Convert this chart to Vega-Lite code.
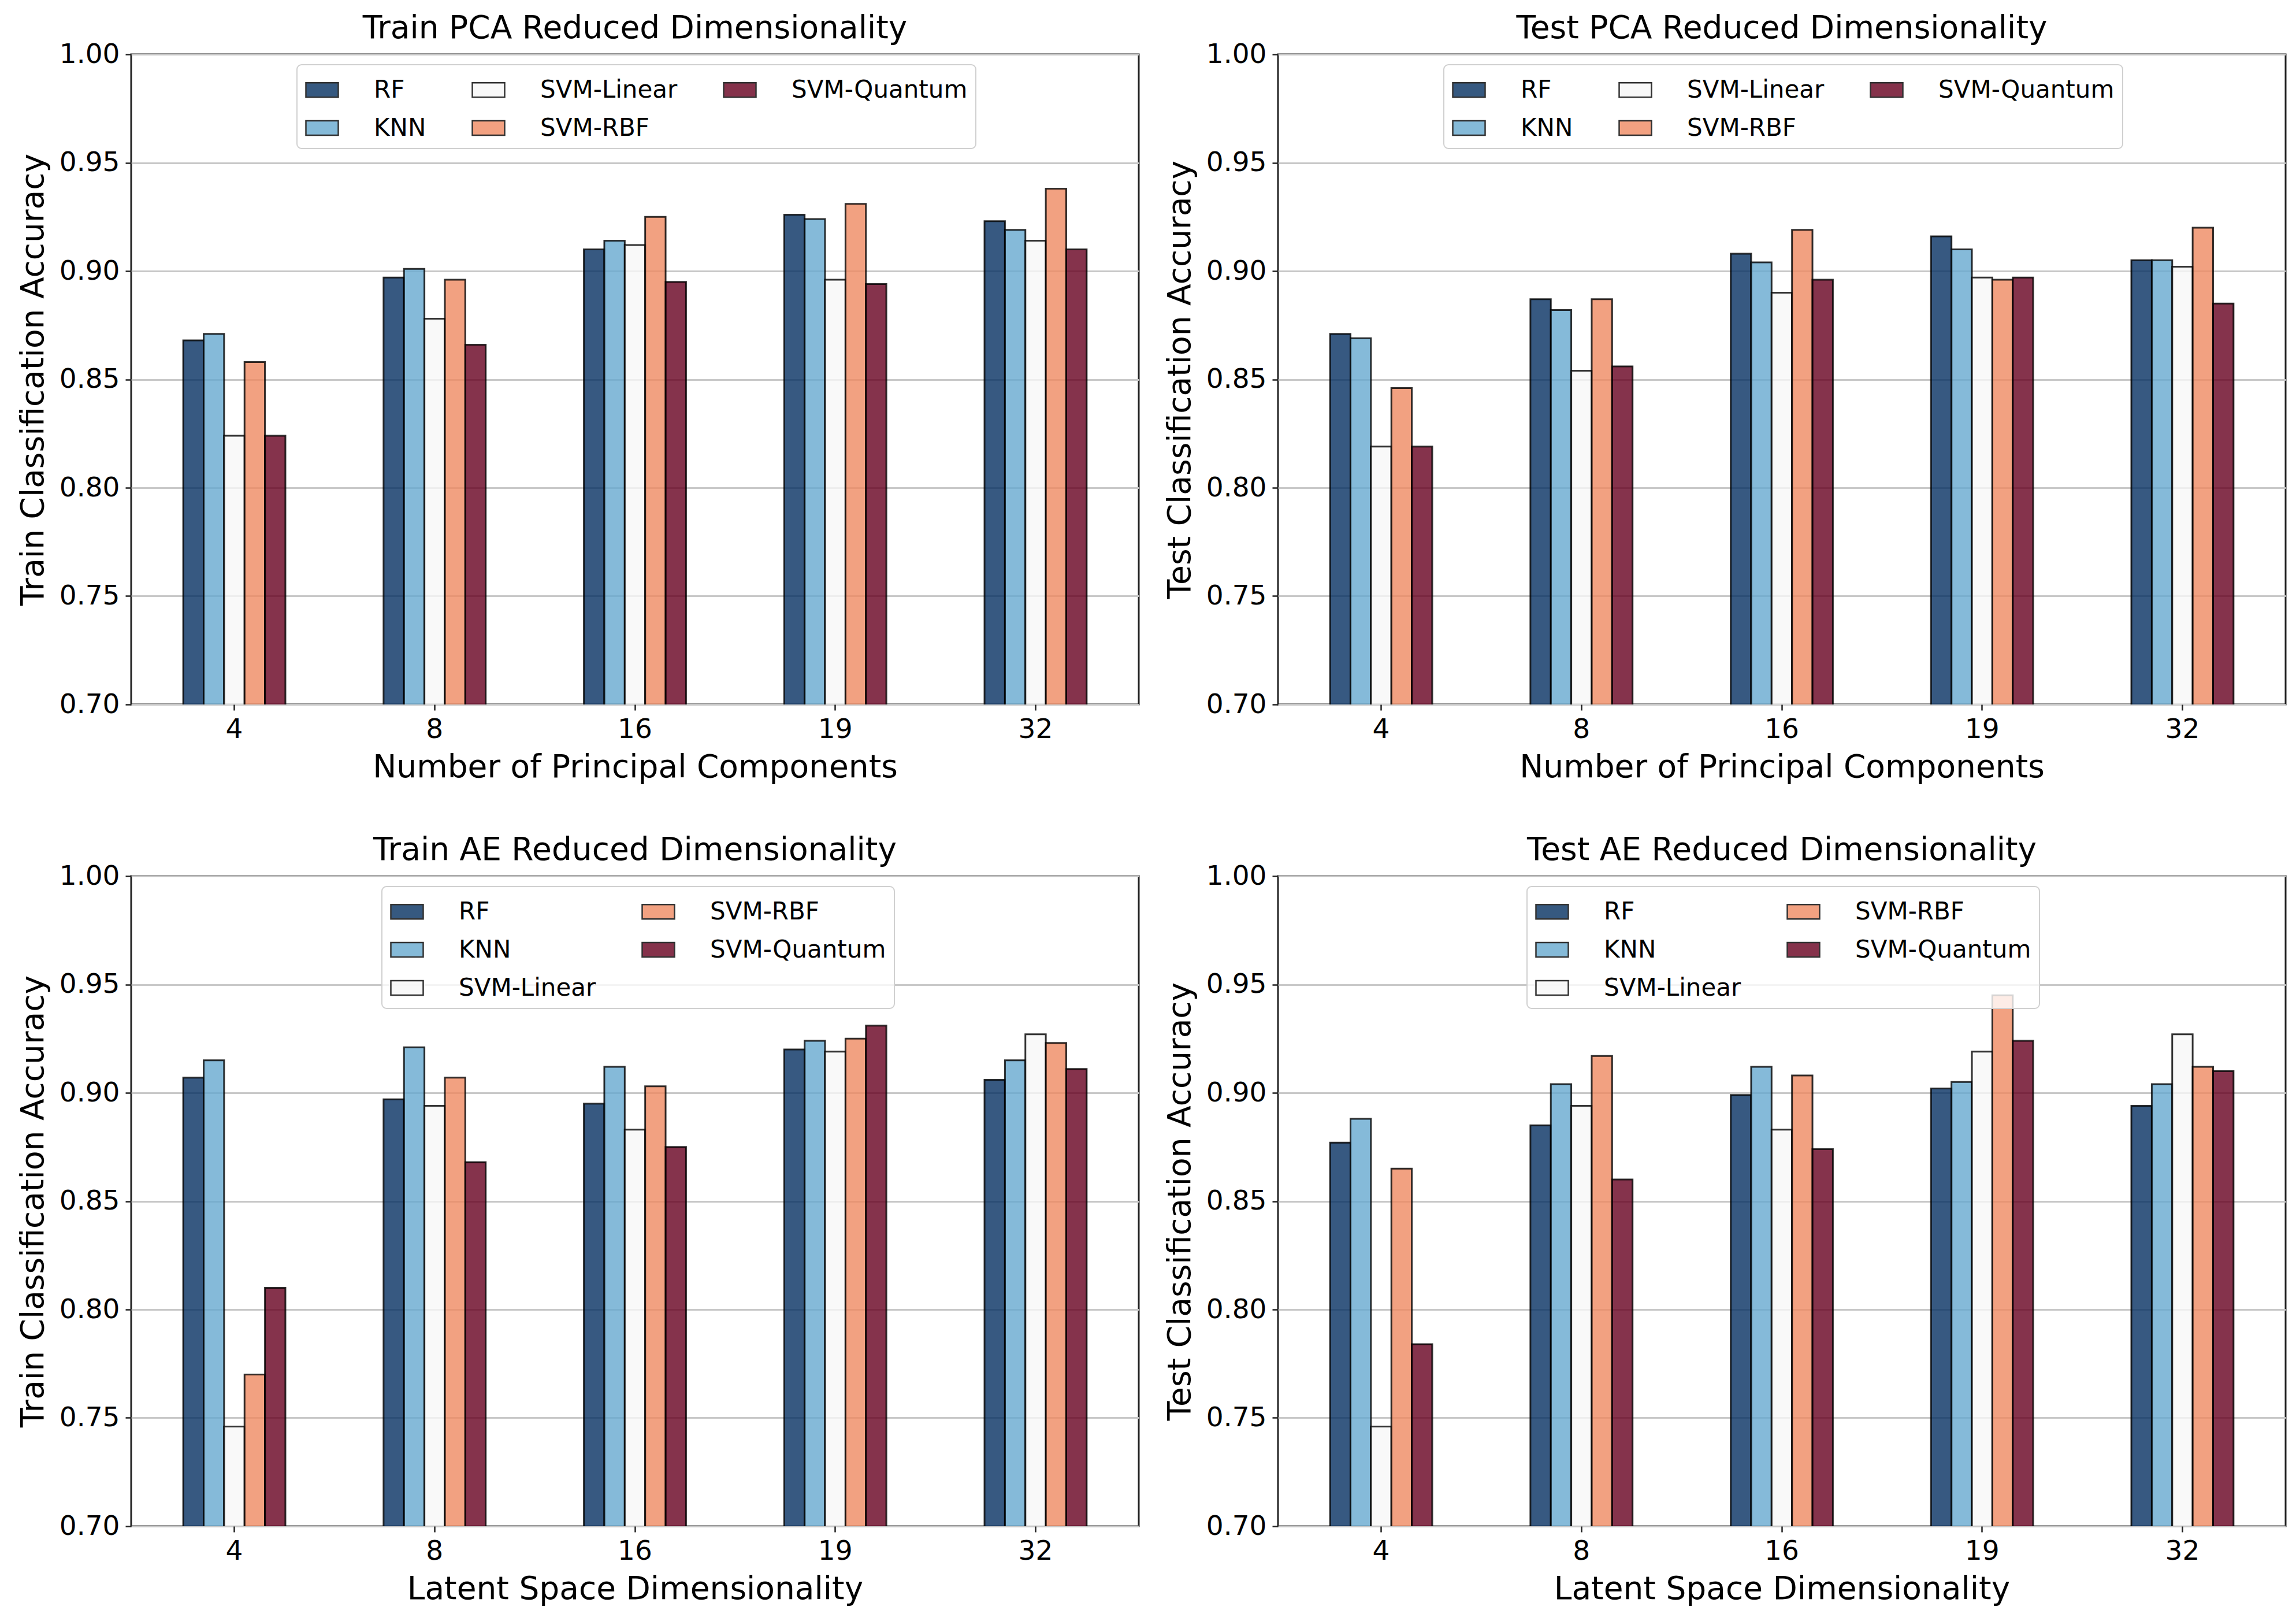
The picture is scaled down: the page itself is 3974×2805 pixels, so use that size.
{
  "$schema": "https://vega.github.io/schema/vega-lite/v6.json",
  "background": "white",
  "padding": {"left": 28, "top": 20, "right": 0, "bottom": 0},
  "spacing": 85,
  "data": {"values": [
    {"p":"trpca","d":4,"m":"RF","v":0.868},{"p":"trpca","d":4,"m":"KNN","v":0.871},{"p":"trpca","d":4,"m":"SVM-Linear","v":0.824},{"p":"trpca","d":4,"m":"SVM-RBF","v":0.858},{"p":"trpca","d":4,"m":"SVM-Quantum","v":0.824},
    {"p":"trpca","d":8,"m":"RF","v":0.897},{"p":"trpca","d":8,"m":"KNN","v":0.901},{"p":"trpca","d":8,"m":"SVM-Linear","v":0.878},{"p":"trpca","d":8,"m":"SVM-RBF","v":0.896},{"p":"trpca","d":8,"m":"SVM-Quantum","v":0.866},
    {"p":"trpca","d":16,"m":"RF","v":0.910},{"p":"trpca","d":16,"m":"KNN","v":0.914},{"p":"trpca","d":16,"m":"SVM-Linear","v":0.912},{"p":"trpca","d":16,"m":"SVM-RBF","v":0.925},{"p":"trpca","d":16,"m":"SVM-Quantum","v":0.895},
    {"p":"trpca","d":19,"m":"RF","v":0.926},{"p":"trpca","d":19,"m":"KNN","v":0.924},{"p":"trpca","d":19,"m":"SVM-Linear","v":0.896},{"p":"trpca","d":19,"m":"SVM-RBF","v":0.931},{"p":"trpca","d":19,"m":"SVM-Quantum","v":0.894},
    {"p":"trpca","d":32,"m":"RF","v":0.923},{"p":"trpca","d":32,"m":"KNN","v":0.919},{"p":"trpca","d":32,"m":"SVM-Linear","v":0.914},{"p":"trpca","d":32,"m":"SVM-RBF","v":0.938},{"p":"trpca","d":32,"m":"SVM-Quantum","v":0.910},
    {"p":"tepca","d":4,"m":"RF","v":0.871},{"p":"tepca","d":4,"m":"KNN","v":0.869},{"p":"tepca","d":4,"m":"SVM-Linear","v":0.819},{"p":"tepca","d":4,"m":"SVM-RBF","v":0.846},{"p":"tepca","d":4,"m":"SVM-Quantum","v":0.819},
    {"p":"tepca","d":8,"m":"RF","v":0.887},{"p":"tepca","d":8,"m":"KNN","v":0.882},{"p":"tepca","d":8,"m":"SVM-Linear","v":0.854},{"p":"tepca","d":8,"m":"SVM-RBF","v":0.887},{"p":"tepca","d":8,"m":"SVM-Quantum","v":0.856},
    {"p":"tepca","d":16,"m":"RF","v":0.908},{"p":"tepca","d":16,"m":"KNN","v":0.904},{"p":"tepca","d":16,"m":"SVM-Linear","v":0.890},{"p":"tepca","d":16,"m":"SVM-RBF","v":0.919},{"p":"tepca","d":16,"m":"SVM-Quantum","v":0.896},
    {"p":"tepca","d":19,"m":"RF","v":0.916},{"p":"tepca","d":19,"m":"KNN","v":0.910},{"p":"tepca","d":19,"m":"SVM-Linear","v":0.897},{"p":"tepca","d":19,"m":"SVM-RBF","v":0.896},{"p":"tepca","d":19,"m":"SVM-Quantum","v":0.897},
    {"p":"tepca","d":32,"m":"RF","v":0.905},{"p":"tepca","d":32,"m":"KNN","v":0.905},{"p":"tepca","d":32,"m":"SVM-Linear","v":0.902},{"p":"tepca","d":32,"m":"SVM-RBF","v":0.920},{"p":"tepca","d":32,"m":"SVM-Quantum","v":0.885},
    {"p":"trae","d":4,"m":"RF","v":0.907},{"p":"trae","d":4,"m":"KNN","v":0.915},{"p":"trae","d":4,"m":"SVM-Linear","v":0.746},{"p":"trae","d":4,"m":"SVM-RBF","v":0.770},{"p":"trae","d":4,"m":"SVM-Quantum","v":0.810},
    {"p":"trae","d":8,"m":"RF","v":0.897},{"p":"trae","d":8,"m":"KNN","v":0.921},{"p":"trae","d":8,"m":"SVM-Linear","v":0.894},{"p":"trae","d":8,"m":"SVM-RBF","v":0.907},{"p":"trae","d":8,"m":"SVM-Quantum","v":0.868},
    {"p":"trae","d":16,"m":"RF","v":0.895},{"p":"trae","d":16,"m":"KNN","v":0.912},{"p":"trae","d":16,"m":"SVM-Linear","v":0.883},{"p":"trae","d":16,"m":"SVM-RBF","v":0.903},{"p":"trae","d":16,"m":"SVM-Quantum","v":0.875},
    {"p":"trae","d":19,"m":"RF","v":0.920},{"p":"trae","d":19,"m":"KNN","v":0.924},{"p":"trae","d":19,"m":"SVM-Linear","v":0.919},{"p":"trae","d":19,"m":"SVM-RBF","v":0.925},{"p":"trae","d":19,"m":"SVM-Quantum","v":0.931},
    {"p":"trae","d":32,"m":"RF","v":0.906},{"p":"trae","d":32,"m":"KNN","v":0.915},{"p":"trae","d":32,"m":"SVM-Linear","v":0.927},{"p":"trae","d":32,"m":"SVM-RBF","v":0.923},{"p":"trae","d":32,"m":"SVM-Quantum","v":0.911},
    {"p":"teae","d":4,"m":"RF","v":0.877},{"p":"teae","d":4,"m":"KNN","v":0.888},{"p":"teae","d":4,"m":"SVM-Linear","v":0.746},{"p":"teae","d":4,"m":"SVM-RBF","v":0.865},{"p":"teae","d":4,"m":"SVM-Quantum","v":0.784},
    {"p":"teae","d":8,"m":"RF","v":0.885},{"p":"teae","d":8,"m":"KNN","v":0.904},{"p":"teae","d":8,"m":"SVM-Linear","v":0.894},{"p":"teae","d":8,"m":"SVM-RBF","v":0.917},{"p":"teae","d":8,"m":"SVM-Quantum","v":0.860},
    {"p":"teae","d":16,"m":"RF","v":0.899},{"p":"teae","d":16,"m":"KNN","v":0.912},{"p":"teae","d":16,"m":"SVM-Linear","v":0.883},{"p":"teae","d":16,"m":"SVM-RBF","v":0.908},{"p":"teae","d":16,"m":"SVM-Quantum","v":0.874},
    {"p":"teae","d":19,"m":"RF","v":0.902},{"p":"teae","d":19,"m":"KNN","v":0.905},{"p":"teae","d":19,"m":"SVM-Linear","v":0.919},{"p":"teae","d":19,"m":"SVM-RBF","v":0.945},{"p":"teae","d":19,"m":"SVM-Quantum","v":0.924},
    {"p":"teae","d":32,"m":"RF","v":0.894},{"p":"teae","d":32,"m":"KNN","v":0.904},{"p":"teae","d":32,"m":"SVM-Linear","v":0.927},{"p":"teae","d":32,"m":"SVM-RBF","v":0.912},{"p":"teae","d":32,"m":"SVM-Quantum","v":0.910}
  ]},
  "resolve": {"scale": {"color": "independent"}, "legend": {"color": "independent"}},
  "vconcat": [
    {
      "spacing": 40,
      "resolve": {"scale": {"color": "independent"}, "legend": {"color": "independent"}},
      "hconcat": [
        {
          "width": 1744, "height": 1125,
          "transform": [{"filter": "datum.p === 'trpca'"}],
          "title": {"text": "Train PCA Reduced Dimensionality"},
          "mark": {"type": "bar", "fillOpacity": 0.8, "stroke": "black", "strokeOpacity": 0.8, "strokeWidth": 3, "clip": true},
          "encoding": {
            "x": {"field": "d", "type": "ordinal", "title": "Number of Principal Components", "scale": {"paddingInner": 0.49, "paddingOuter": 0.26}, "axis": {"labelAngle": 0}},
            "xOffset": {"field": "m", "type": "nominal", "sort": ["RF", "KNN", "SVM-Linear", "SVM-RBF", "SVM-Quantum"]},
            "y": {"field": "v", "type": "quantitative", "title": "Train Classification Accuracy", "scale": {"domain": [0.7, 1.0], "zero": false}, "axis": {"values": [0.7, 0.75, 0.8, 0.85, 0.9, 0.95, 1.0], "format": ".2f"}},
            "color": {"field": "m", "type": "nominal",
              "scale": {"domain": ["RF", "KNN", "SVM-Linear", "SVM-RBF", "SVM-Quantum"], "range": ["#053061", "#67a9cf", "#f7f7f7", "#ef8a62", "#67001f"]},
              "legend": {"columns": 3, "legendX": 287, "legendY": 18}}
          }
        },
        {
          "width": 1744, "height": 1125,
          "transform": [{"filter": "datum.p === 'tepca'"}],
          "title": {"text": "Test PCA Reduced Dimensionality"},
          "mark": {"type": "bar", "fillOpacity": 0.8, "stroke": "black", "strokeOpacity": 0.8, "strokeWidth": 3, "clip": true},
          "encoding": {
            "x": {"field": "d", "type": "ordinal", "title": "Number of Principal Components", "scale": {"paddingInner": 0.49, "paddingOuter": 0.26}, "axis": {"labelAngle": 0}},
            "xOffset": {"field": "m", "type": "nominal", "sort": ["RF", "KNN", "SVM-Linear", "SVM-RBF", "SVM-Quantum"]},
            "y": {"field": "v", "type": "quantitative", "title": "Test Classification Accuracy", "scale": {"domain": [0.7, 1.0], "zero": false}, "axis": {"values": [0.7, 0.75, 0.8, 0.85, 0.9, 0.95, 1.0], "format": ".2f"}},
            "color": {"field": "m", "type": "nominal",
              "scale": {"domain": ["RF", "KNN", "SVM-Linear", "SVM-RBF", "SVM-Quantum"], "range": ["#053061", "#67a9cf", "#f7f7f7", "#ef8a62", "#67001f"]},
              "legend": {"columns": 3, "legendX": 287, "legendY": 18}}
          }
        }
      ]
    },
    {
      "spacing": 40,
      "resolve": {"scale": {"color": "independent"}, "legend": {"color": "independent"}},
      "hconcat": [
        {
          "width": 1744, "height": 1125,
          "transform": [{"filter": "datum.p === 'trae'"}],
          "title": {"text": "Train AE Reduced Dimensionality"},
          "mark": {"type": "bar", "fillOpacity": 0.8, "stroke": "black", "strokeOpacity": 0.8, "strokeWidth": 3, "clip": true},
          "encoding": {
            "x": {"field": "d", "type": "ordinal", "title": "Latent Space Dimensionality", "scale": {"paddingInner": 0.49, "paddingOuter": 0.26}, "axis": {"labelAngle": 0}},
            "xOffset": {"field": "m", "type": "nominal", "sort": ["RF", "KNN", "SVM-Linear", "SVM-RBF", "SVM-Quantum"]},
            "y": {"field": "v", "type": "quantitative", "title": "Train Classification Accuracy", "scale": {"domain": [0.7, 1.0], "zero": false}, "axis": {"values": [0.7, 0.75, 0.8, 0.85, 0.9, 0.95, 1.0], "format": ".2f"}},
            "color": {"field": "m", "type": "nominal",
              "scale": {"domain": ["RF", "KNN", "SVM-Linear", "SVM-RBF", "SVM-Quantum"], "range": ["#053061", "#67a9cf", "#f7f7f7", "#ef8a62", "#67001f"]},
              "legend": {"columns": 2, "legendX": 434, "legendY": 18}}
          }
        },
        {
          "width": 1744, "height": 1125,
          "transform": [{"filter": "datum.p === 'teae'"}],
          "title": {"text": "Test AE Reduced Dimensionality"},
          "mark": {"type": "bar", "fillOpacity": 0.8, "stroke": "black", "strokeOpacity": 0.8, "strokeWidth": 3, "clip": true},
          "encoding": {
            "x": {"field": "d", "type": "ordinal", "title": "Latent Space Dimensionality", "scale": {"paddingInner": 0.49, "paddingOuter": 0.26}, "axis": {"labelAngle": 0}},
            "xOffset": {"field": "m", "type": "nominal", "sort": ["RF", "KNN", "SVM-Linear", "SVM-RBF", "SVM-Quantum"]},
            "y": {"field": "v", "type": "quantitative", "title": "Test Classification Accuracy", "scale": {"domain": [0.7, 1.0], "zero": false}, "axis": {"values": [0.7, 0.75, 0.8, 0.85, 0.9, 0.95, 1.0], "format": ".2f"}},
            "color": {"field": "m", "type": "nominal",
              "scale": {"domain": ["RF", "KNN", "SVM-Linear", "SVM-RBF", "SVM-Quantum"], "range": ["#053061", "#67a9cf", "#f7f7f7", "#ef8a62", "#67001f"]},
              "legend": {"columns": 2, "legendX": 431, "legendY": 18}}
          }
        }
      ]
    }
  ],
  "config": {
    "font": "DejaVu Sans",
    "view": {"stroke": "#222222", "strokeWidth": 3},
    "title": {"fontSize": 55, "fontWeight": "normal", "color": "black", "offset": -8, "anchor": "middle"},
    "axis": {"labelFontSize": 47, "titleFontSize": 55, "titleFontWeight": "normal", "labelColor": "black", "titleColor": "black", "domain": false, "tickColor": "#222222", "tickWidth": 2.5, "tickSize": 10, "labelPadding": 10, "titlePadding": 16},
    "axisX": {"grid": false},
    "axisY": {"grid": true, "gridColor": "#c8c8c8", "gridWidth": 3},
    "legend": {
      "orient": "none", "title": null, "labelFontSize": 42, "labelColor": "black", "labelLimit": 2000,
      "symbolType": "M-1,-0.45L1,-0.45L1,0.45L-1,0.45Z", "symbolSize": 3136,
      "symbolStrokeColor": "black", "symbolStrokeWidth": 2.5, "symbolOpacity": 0.8,
      "fillColor": "rgba(255,255,255,0.8)", "strokeColor": "#d0d0d0", "strokeWidth": 2, "cornerRadius": 8,
      "padding": 14, "rowPadding": 15, "columnPadding": 74, "labelOffset": 60
    }
  }
}
